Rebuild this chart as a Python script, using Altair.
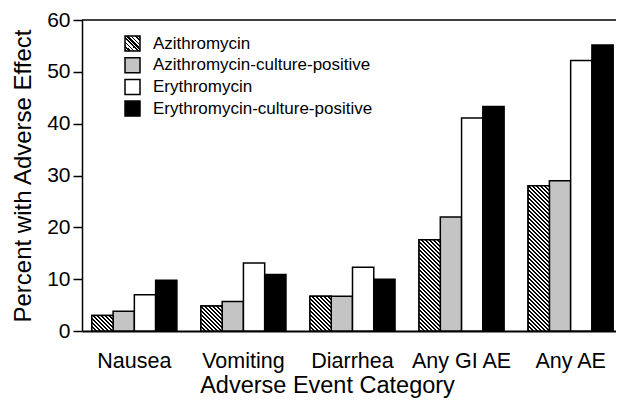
import altair as alt
import pandas as pd

categories = ["Nausea", "Vomiting", "Diarrhea", "Any GI AE", "Any AE"]
series = ["Azithromycin", "Azithromycin-culture-positive", "Erythromycin",
          "Erythromycin-culture-positive"]
azithro = [3.0, 4.8, 6.7, 17.6, 28.0]
azithro_cp = [3.8, 5.7, 6.7, 22.0, 29.0]
erythro = [7.0, 13.1, 12.3, 41.1, 52.2]
erythro_cp = [9.8, 10.9, 10.0, 43.3, 55.2]
y_ticks = [0, 10, 20, 30, 40, 50, 60]

rows = []
for s, vals in zip(series, [azithro, azithro_cp, erythro, erythro_cp]):
    for c, v in zip(categories, vals):
        rows.append({"category": c, "series": s, "value": v})
df = pd.DataFrame(rows)
top_df = pd.DataFrame({"value": [y_ticks[-1]]})


def stripe_stops(length, period, dark):
    stops = []
    n = int(length / period) + 1
    for i in range(n):
        t0 = i * period / length
        t1 = (i * period + dark) / length
        t2 = (i + 1) * period / length
        stops += [(t0, "black"), (t1, "black"), (t1, "white"), (t2, "white")]
    return "[" + ",".join("{offset:%.4f,color:'%s'}" % (min(t, 1.0), c) for t, c in stops) + "]"


# hatch for legend symbol (square box)
legend_hatch = "{gradient:'linear',x1:0,y1:1,x2:1,y2:0,stops:%s}" % stripe_stops(30, 4, 2)

# hatch for bars: keep 45 degree stripes whatever the bar height
L = 200
w = "bandwidth('xOffset')"
h = "(scale('y',0)-scale('y',datum.value))"
D = f"({w}*{w}+{h}*{h})"
bar_hatch = "{gradient:'linear',x1:0,y1:1,x2:%d*%s/%s,y2:1-%d*%s/%s,stops:%s}" % (
    L, w, D, L, h, D, stripe_stops(L, 4, 2))

x_enc = alt.X("category:N", sort=categories,
              scale=alt.Scale(paddingInner=0.22, paddingOuter=0.09, range=[0, 541]),
              axis=alt.Axis(title="Adverse Event Category", labelAngle=0, ticks=False,
                            tickSize=0, labelPadding=19, labelFontSize=21.5,
                            titleFontSize=23.5, titlePadding=2, titleFontWeight="normal",
                            titleX=245, domainColor="black", domainWidth=2))
xo_enc = alt.XOffset("series:N", sort=series,
                     scale=alt.Scale(domain=series, paddingInner=0, paddingOuter=0))
y_enc = alt.Y("value:Q", stack=None,
              scale=alt.Scale(domain=[0, 60], nice=False),
              axis=alt.Axis(title="Percent with Adverse Effect", values=y_ticks,
                            grid=False, tickSize=9, tickColor="black", tickWidth=1.5,
                            labelPadding=3, labelFontSize=21, titleFontSize=24,
                            titleFontWeight="normal", titlePadding=11,
                            domainColor="black", domainWidth=1.5))

base = alt.Chart(df).mark_bar(stroke="black", strokeWidth=1.5).encode(
    x=x_enc, xOffset=xo_enc, y=y_enc,
    fill=alt.Fill("series:N", sort=series,
                  scale=alt.Scale(domain=series,
                                  range=[alt.ExprRef(legend_hatch), "#c4c4c4", "white", "black"]),
                  legend=alt.Legend(title=None, orient="none", legendX=42, legendY=15,
                                    symbolType="square", symbolSize=225,
                                    symbolStrokeColor="black", symbolStrokeWidth=1.5,
                                    labelFontSize=17, labelOffset=12, rowPadding=0.7,
                                    labelLimit=400))
)

hatch = alt.Chart(df).transform_filter(
    alt.datum.series == series[0]
).mark_bar(stroke="black", strokeWidth=1.5, fill=alt.ExprRef(bar_hatch)).encode(
    x=x_enc, xOffset=xo_enc, y=y_enc
)

top = alt.Chart(top_df).mark_rule(color="black", strokeWidth=1.5).encode(y="value:Q")

chart = alt.layer(base, hatch, top).properties(
    width=534, height=311,
    autosize=alt.AutoSizeParams(type="none"),
    padding={"left": 74, "top": 12, "right": 0, "bottom": 68},
).configure(font="Liberation Sans").configure_view(stroke=None).configure_axis(
    labelColor="black", titleColor="black"
).configure_legend(labelColor="black")

chart.save("out.html", embed_options={"renderer": "svg", "actions": False})
